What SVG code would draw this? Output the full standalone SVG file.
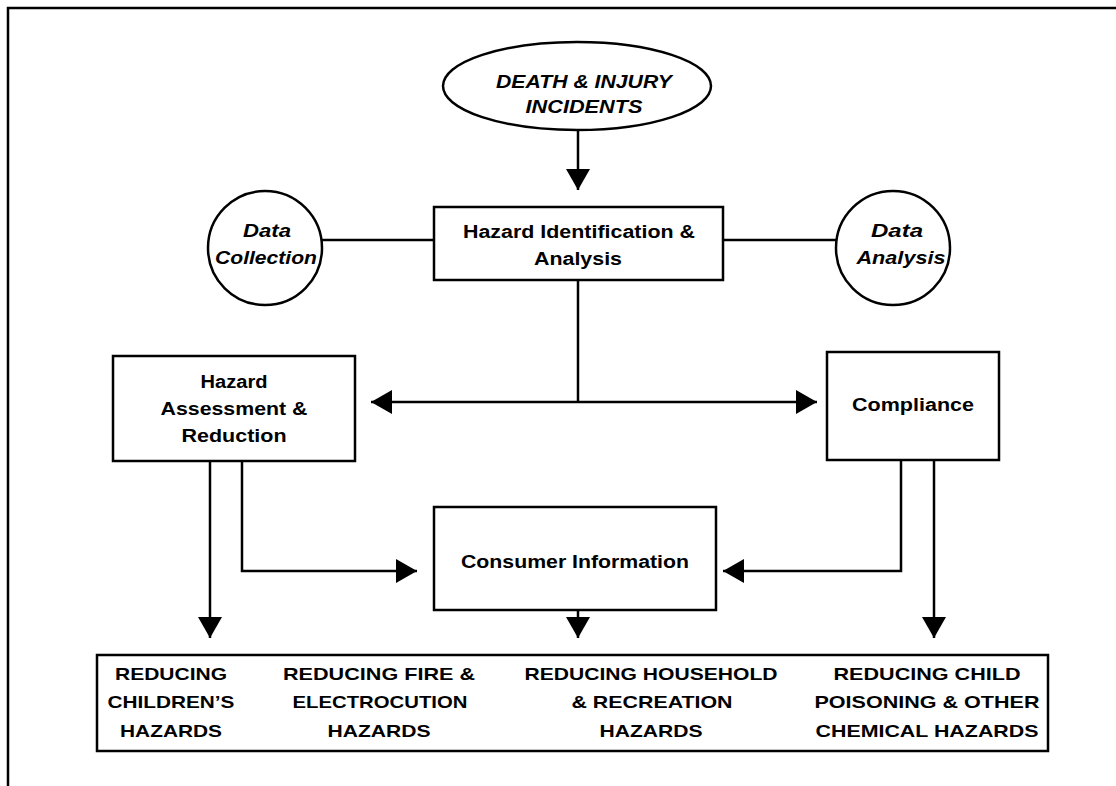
<svg xmlns="http://www.w3.org/2000/svg" width="1116" height="786" viewBox="0 0 1116 786">
<style>
.s{fill:none;stroke:#000;stroke-width:2.5}
.b{fill:#fff;stroke:#000;stroke-width:2.5}
text{font-family:"Liberation Sans",Arial,sans-serif;font-weight:bold;font-size:18px;fill:#000;text-anchor:middle}
.i{font-style:italic;font-size:19px}
.c{font-size:17px}
</style>
<defs>
<marker id="ah" markerUnits="userSpaceOnUse" markerWidth="22" markerHeight="24" refX="21" refY="12" orient="auto">
<path d="M0,0 L21,12 L0,24 Z" fill="#000"/>
</marker>
</defs>
<rect width="1116" height="786" fill="#fff"/>
<path class="s" d="M8,786 V8 H1116"/>
<g id="connectors">
<line class="s" x1="578" y1="130" x2="578" y2="190" marker-end="url(#ah)"/>
<line class="s" x1="322" y1="240" x2="434" y2="240"/>
<line class="s" x1="723" y1="240" x2="836" y2="240"/>
<line class="s" x1="578" y1="280" x2="578" y2="402"/>
<line class="s" x1="578" y1="402" x2="371" y2="402" marker-end="url(#ah)"/>
<line class="s" x1="578" y1="402" x2="817" y2="402" marker-end="url(#ah)"/>
<line class="s" x1="210" y1="461" x2="210" y2="638" marker-end="url(#ah)"/>
<polyline class="s" points="242,461 242,571 417,571" marker-end="url(#ah)"/>
<polyline class="s" points="901,460 901,571 723,571" marker-end="url(#ah)"/>
<line class="s" x1="934" y1="460" x2="934" y2="638" marker-end="url(#ah)"/>
<line class="s" x1="578" y1="610" x2="578" y2="638" marker-end="url(#ah)"/>
</g>
<g id="death-injury">
<ellipse class="b" cx="577" cy="86" rx="134" ry="44"/>
<text class="i" x="584" y="88" textLength="176" lengthAdjust="spacingAndGlyphs">DEATH &amp; INJURY</text>
<text class="i" x="584" y="113" textLength="117" lengthAdjust="spacingAndGlyphs">INCIDENTS</text>
</g>
<g id="hazard-identification">
<rect class="b" x="434" y="207" width="289" height="73"/>
<text x="579" y="238" textLength="232" lengthAdjust="spacingAndGlyphs">Hazard Identification &amp;</text>
<text x="578" y="265" textLength="88" lengthAdjust="spacingAndGlyphs">Analysis</text>
</g>
<g id="data-collection">
<circle class="b" cx="265" cy="248" r="57"/>
<text class="i" x="267" y="237" textLength="48" lengthAdjust="spacingAndGlyphs">Data</text>
<text class="i" x="266" y="264" textLength="102" lengthAdjust="spacingAndGlyphs">Collection</text>
</g>
<g id="data-analysis">
<circle class="b" cx="893" cy="248" r="57"/>
<text class="i" x="897" y="237" textLength="52" lengthAdjust="spacingAndGlyphs">Data</text>
<text class="i" x="901" y="264" textLength="89" lengthAdjust="spacingAndGlyphs">Analysis</text>
</g>
<g id="hazard-assessment">
<rect class="b" x="113" y="356" width="242" height="105"/>
<text x="234" y="388" textLength="67" lengthAdjust="spacingAndGlyphs">Hazard</text>
<text x="234" y="415" textLength="147" lengthAdjust="spacingAndGlyphs">Assessment &amp;</text>
<text x="234" y="442" textLength="105" lengthAdjust="spacingAndGlyphs">Reduction</text>
</g>
<g id="compliance">
<rect class="b" x="827" y="352" width="172" height="108"/>
<text x="913" y="411" textLength="122" lengthAdjust="spacingAndGlyphs">Compliance</text>
</g>
<g id="consumer-information">
<rect class="b" x="434" y="507" width="282" height="103"/>
<text x="575" y="568" textLength="228" lengthAdjust="spacingAndGlyphs">Consumer Information</text>
</g>
<g id="goals">
<rect class="b" x="97" y="655" width="951" height="96"/>
<text class="c" x="171" y="680" textLength="112" lengthAdjust="spacingAndGlyphs">REDUCING</text>
<text class="c" x="171" y="708" textLength="127" lengthAdjust="spacingAndGlyphs">CHILDREN’S</text>
<text class="c" x="171" y="737" textLength="102" lengthAdjust="spacingAndGlyphs">HAZARDS</text>
<text class="c" x="379" y="680" textLength="192" lengthAdjust="spacingAndGlyphs">REDUCING FIRE &amp;</text>
<text class="c" x="380" y="708" textLength="175" lengthAdjust="spacingAndGlyphs">ELECTROCUTION</text>
<text class="c" x="379" y="737" textLength="103" lengthAdjust="spacingAndGlyphs">HAZARDS</text>
<text class="c" x="651" y="680" textLength="253" lengthAdjust="spacingAndGlyphs">REDUCING HOUSEHOLD</text>
<text class="c" x="652" y="708" textLength="161" lengthAdjust="spacingAndGlyphs">&amp; RECREATION</text>
<text class="c" x="651" y="737" textLength="103" lengthAdjust="spacingAndGlyphs">HAZARDS</text>
<text class="c" x="927" y="680" textLength="187" lengthAdjust="spacingAndGlyphs">REDUCING CHILD</text>
<text class="c" x="927" y="708" textLength="225" lengthAdjust="spacingAndGlyphs">POISONING &amp; OTHER</text>
<text class="c" x="927" y="737" textLength="223" lengthAdjust="spacingAndGlyphs">CHEMICAL HAZARDS</text>
</g>
</svg>
